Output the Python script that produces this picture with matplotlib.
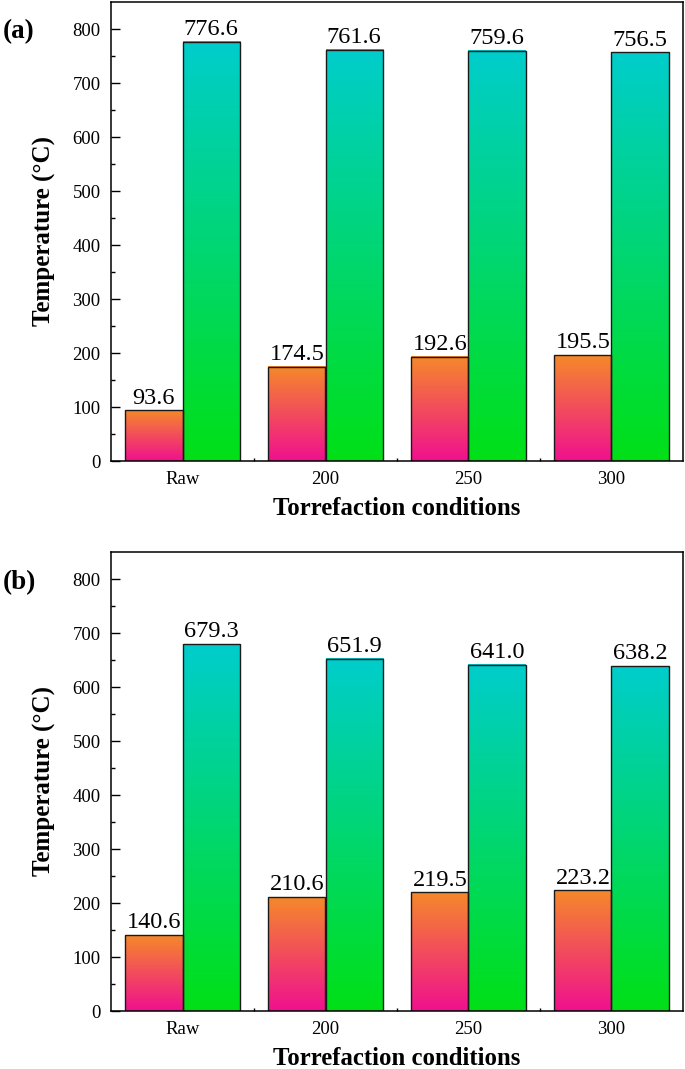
import numpy as np
import matplotlib
matplotlib.use("Agg")
import matplotlib.pyplot as plt
from matplotlib.colors import LinearSegmentedColormap

plt.rcParams['font.family'] = ['Liberation Serif', 'DejaVu Serif']
plt.rcParams['mathtext.fontset'] = 'stix'

categories = ["Raw", "200", "250", "300"]
a_low = [93.6, 174.5, 192.6, 195.5]
a_high = [776.6, 761.6, 759.6, 756.5]
b_low = [140.6, 210.6, 219.5, 223.2]
b_high = [679.3, 651.9, 641.0, 638.2]
yticks = [0, 100, 200, 300, 400, 500, 600, 700, 800]

cmap_low = LinearSegmentedColormap.from_list("low", ["#F0108E", "#F5892A"])
cmap_high = LinearSegmentedColormap.from_list("high", ["#00E016", "#00CDCC"])

fig = plt.figure(figsize=(6.85, 10.69), dpi=100)
W, H = 685, 1069


def grad_bar(ax, x0, width, h, cmap):
    grad = np.linspace(0, 1, 256).reshape(-1, 1)
    ax.imshow(grad, cmap=cmap, origin='lower', aspect='auto',
              extent=[x0, x0 + width, 0, h], zorder=2, interpolation='bicubic')
    ax.bar(x0, h, width=width, align='edge', fill=False,
           edgecolor='#1a1a1a', linewidth=1.0, zorder=3)


def panel(rect, low, high, tag, tag_y):
    ax = fig.add_axes(rect)
    x = np.arange(len(categories))
    w = 0.4
    for i in range(len(categories)):
        grad_bar(ax, x[i] - w, w, low[i], cmap_low)
        grad_bar(ax, x[i], w, high[i], cmap_high)
        ax.annotate(f"{low[i]:.1f}", (x[i] - w / 2, low[i]), xytext=(0, 5),
                    textcoords='offset points', ha='center', va='baseline',
                    fontsize=17.5)
        ax.annotate(f"{high[i]:.1f}", (x[i] + w / 2, high[i]), xytext=(0, 5),
                    textcoords='offset points', ha='center', va='baseline',
                    fontsize=17.5)
    ax.set_xlim(-0.5, 3.5)
    ax.set_ylim(0, 850)
    ax.set_yticks(yticks)
    ax.set_yticks(np.arange(50, 850, 100), minor=True)
    ax.set_xticks(x)
    ax.set_xticklabels(categories)
    ax.set_xticks([0.5, 1.5, 2.5], minor=True)
    ax.tick_params(axis='y', which='major', direction='in', length=6.5,
                   width=1.0, labelsize=13.5, pad=7.5)
    ax.tick_params(axis='y', which='minor', direction='in', length=3,
                   width=1.0)
    ax.tick_params(axis='x', which='major', length=0, labelsize=13.5, pad=7)
    ax.tick_params(axis='x', which='minor', direction='in', length=2.5,
                   width=1.0)
    for s in ax.spines.values():
        s.set_linewidth(1.1)
        s.set_zorder(5)
    ax.set_ylabel("Temperature (°C)", fontsize=18, fontweight='bold')
    ax.yaxis.set_label_coords(-0.096, 0.5)
    ax.set_xlabel("Torrefaction conditions", fontsize=17.8, fontweight='bold')
    ax.xaxis.set_label_coords(0.5, -0.079)
    fig.text(19 / W, tag_y, tag, fontsize=19.5, fontweight='bold',
             ha='center', va='center')
    return ax


panel([111 / W, 1 - 461 / H, 572 / W, 459 / H], a_low, a_high, "(a)", 1 - 32 / H)
panel([111 / W, 1 - 1011 / H, 572 / W, 459 / H], b_low, b_high, "(b)", 1 - 583 / H)

fig.savefig("out.png", dpi=100)
